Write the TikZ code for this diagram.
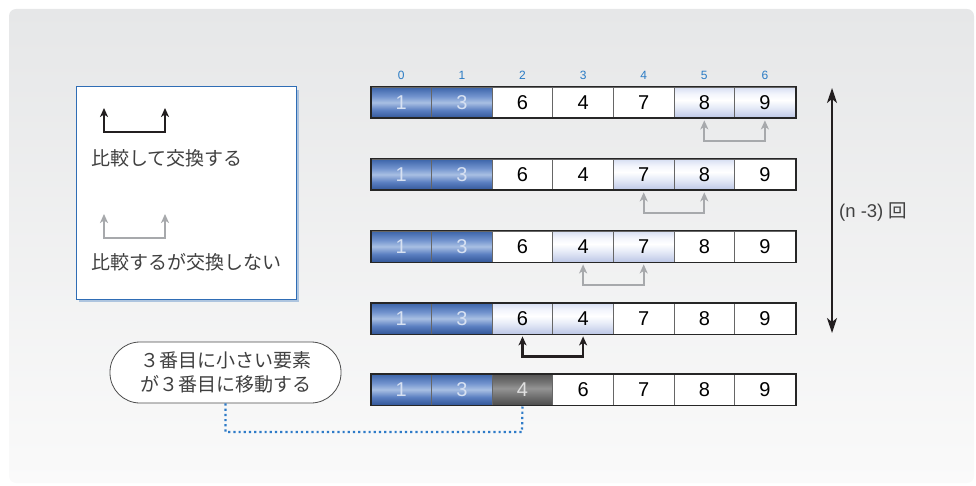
\documentclass[tikz,border=0pt]{standalone}
\usepackage{fontspec}
\setmainfont{Liberation Sans}
\newfontfamily\jp{Noto Sans CJK JP}
\usetikzlibrary{arrows.meta,shadows}
\definecolor{bgtop}{HTML}{E6E7E8}
\definecolor{bgbot}{HTML}{FAFAFA}
\definecolor{idxblue}{HTML}{2A7BC4}
\definecolor{linegray}{HTML}{A7A9AC}
\definecolor{ink}{HTML}{231F20}
\definecolor{txt}{HTML}{404040}
\definecolor{legendblue}{HTML}{2F6DB5}
\definecolor{dotblue}{HTML}{2E7BC8}
\pgfdeclareverticalshading{blueshade}{100bp}{%
  rgb(0bp)=(0.20,0.34,0.60); rgb(25bp)=(0.20,0.34,0.60); rgb(38bp)=(0.36,0.50,0.76);
  rgb(50bp)=(0.66,0.75,0.89); rgb(60bp)=(0.45,0.58,0.81); rgb(75bp)=(0.23,0.39,0.66); rgb(100bp)=(0.23,0.39,0.66)}
\pgfdeclareverticalshading{paleshade}{100bp}{%
  rgb(0bp)=(0.74,0.78,0.90); rgb(25bp)=(0.74,0.78,0.90); rgb(42bp)=(0.90,0.92,0.97);
  rgb(54bp)=(1,1,1); rgb(64bp)=(0.95,0.96,0.99); rgb(75bp)=(0.84,0.87,0.95); rgb(100bp)=(0.84,0.87,0.95)}
\pgfdeclareverticalshading{darkshade}{100bp}{%
  rgb(0bp)=(0.30,0.30,0.30); rgb(25bp)=(0.30,0.30,0.30); rgb(40bp)=(0.45,0.45,0.45);
  rgb(52bp)=(0.58,0.58,0.58); rgb(62bp)=(0.45,0.45,0.45); rgb(75bp)=(0.33,0.33,0.33); rgb(100bp)=(0.33,0.33,0.33)}
\tikzset{
  cell/.style={draw=black!60, line width=0.8pt, minimum width=60.6pt, minimum height=31pt,
    inner sep=0pt, font=\fontsize{20}{20}\selectfont, text=black, fill=white},
  bluecell/.style={cell, shading=blueshade, text={rgb,255:red,215;green,225;blue,242}},
  palecell/.style={cell, shading=paleshade},
  darkcell/.style={cell, shading=darkshade, text=white!88!black},
  idx/.style={font=\fontsize{12}{12}\selectfont, text=idxblue},
  swaplink/.style={draw=ink, line width=2.2pt, {Stealth[length=9pt,width=8pt,inset=2.5pt]}-{Stealth[length=9pt,width=8pt,inset=2.5pt]}, shorten <=2pt, shorten >=2pt},
  keeplink/.style={draw=linegray, line width=2pt, {Stealth[length=9pt,width=8pt,inset=2.5pt]}-{Stealth[length=9pt,width=8pt,inset=2.5pt]}, shorten <=2pt, shorten >=2pt},
  jptext/.style={font=\jp\fontsize{19}{24}\selectfont, text=txt},
}
\begin{document}
\begin{tikzpicture}[x=1pt,y=-1pt]
\useasboundingbox (0,0) rectangle (976,486);
% background
\shade[top color=bgtop, bottom color=bgbot, rounded corners=7pt] (9,9) rectangle (974,483);

% arrays
\def\xzero{401.3}
\def\cw{60.6}
\foreach \r/\y/\vals/\hl in {1/102.5/{1,3,6,4,7,8,9}/{5,6},
                             2/174.5/{1,3,6,4,7,8,9}/{4,5},
                             3/246.5/{1,3,6,4,7,8,9}/{3,4},
                             4/318.5/{1,3,6,4,7,8,9}/{2,3},
                             5/389.5/{1,3,4,6,7,8,9}/{}}{
  \foreach \v [count=\i from 0] in \vals {
    \def\sty{cell}
    \ifnum\i<2 \def\sty{bluecell}\fi
    \foreach \h in \hl { \ifnum\h=\i \global\def\gsty{palecell}\fi }
    \ifdefined\gsty \let\sty\gsty \global\let\gsty\undefined \fi
    \ifnum\r=5 \ifnum\i=2 \def\sty{darkcell}\fi\fi
    \node[\sty] (r\r c\i) at ({\xzero+\i*\cw},\y) {\v};
  }
  \draw[draw=black!85, line width=1.8pt] (r\r c0.north west) rectangle (r\r c6.south east);
}

% index labels
\foreach \i in {0,...,6} {
  \node[idx] (ix\i) at ({\xzero+\i*\cw},75) {\i};
}

% comparison arrows
\draw[keeplink] (r1c5.south) -- ++(0,23) -| (r1c6.south);
\draw[keeplink] (r2c4.south) -- ++(0,23) -| (r2c5.south);
\draw[keeplink] (r3c3.south) -- ++(0,23) -| (r3c4.south);
\draw[swaplink] (r4c2.south) -- ++(0,22) -| (r4c3.south);

% repetition arrow
\coordinate (rtop) at (832,88);
\coordinate (rbot) at (832,333);
\draw[draw=ink, line width=1.4pt, {Stealth[length=15pt,width=10pt,inset=4pt]}-{Stealth[length=15pt,width=10pt,inset=4pt]}] (rtop) -- (rbot);
\node[anchor=west, font=\fontsize{18.5}{18.5}\selectfont, text=txt, inner sep=0pt] (rep) at (839,212) {(n -3) {\jp 回}};

% legend box
\node[draw=legendblue, line width=1pt, fill=white, minimum width=220pt, minimum height=212pt,
  drop shadow={shadow xshift=3pt, shadow yshift=-3pt, fill=legendblue!60, opacity=0.6}] (legend) at (186,193) {};
\coordinate (la1) at (104,108);
\coordinate (la2) at (165,108);
\draw[swaplink, shorten <=0pt, shorten >=0pt] (la1) -- ++(0,24) -| (la2);
\node[jptext, anchor=west, inner sep=0pt] (lt1) at (91,158) {比較して交換する};
\coordinate (lb1) at (104,214);
\coordinate (lb2) at (165,214);
\draw[keeplink, shorten <=0pt, shorten >=0pt] (lb1) -- ++(0,24) -| (lb2);
\node[jptext, anchor=west, inner sep=0pt] (lt2) at (91,262) {比較するが交換しない};

% callout
\node[draw=black!70, line width=0.8pt, fill=white, rounded corners=30pt, minimum width=231pt,
  minimum height=61pt, align=center, jptext, inner sep=0pt] (callout) at (225.5,372.5)
  {３番目に小さい要素\\が３番目に移動する};
\draw[dotblue, line width=2.2pt, dash pattern=on 2.2pt off 3pt] (callout.south) |- (522,432) -- (r5c2.south);
\end{tikzpicture}
\end{document}
